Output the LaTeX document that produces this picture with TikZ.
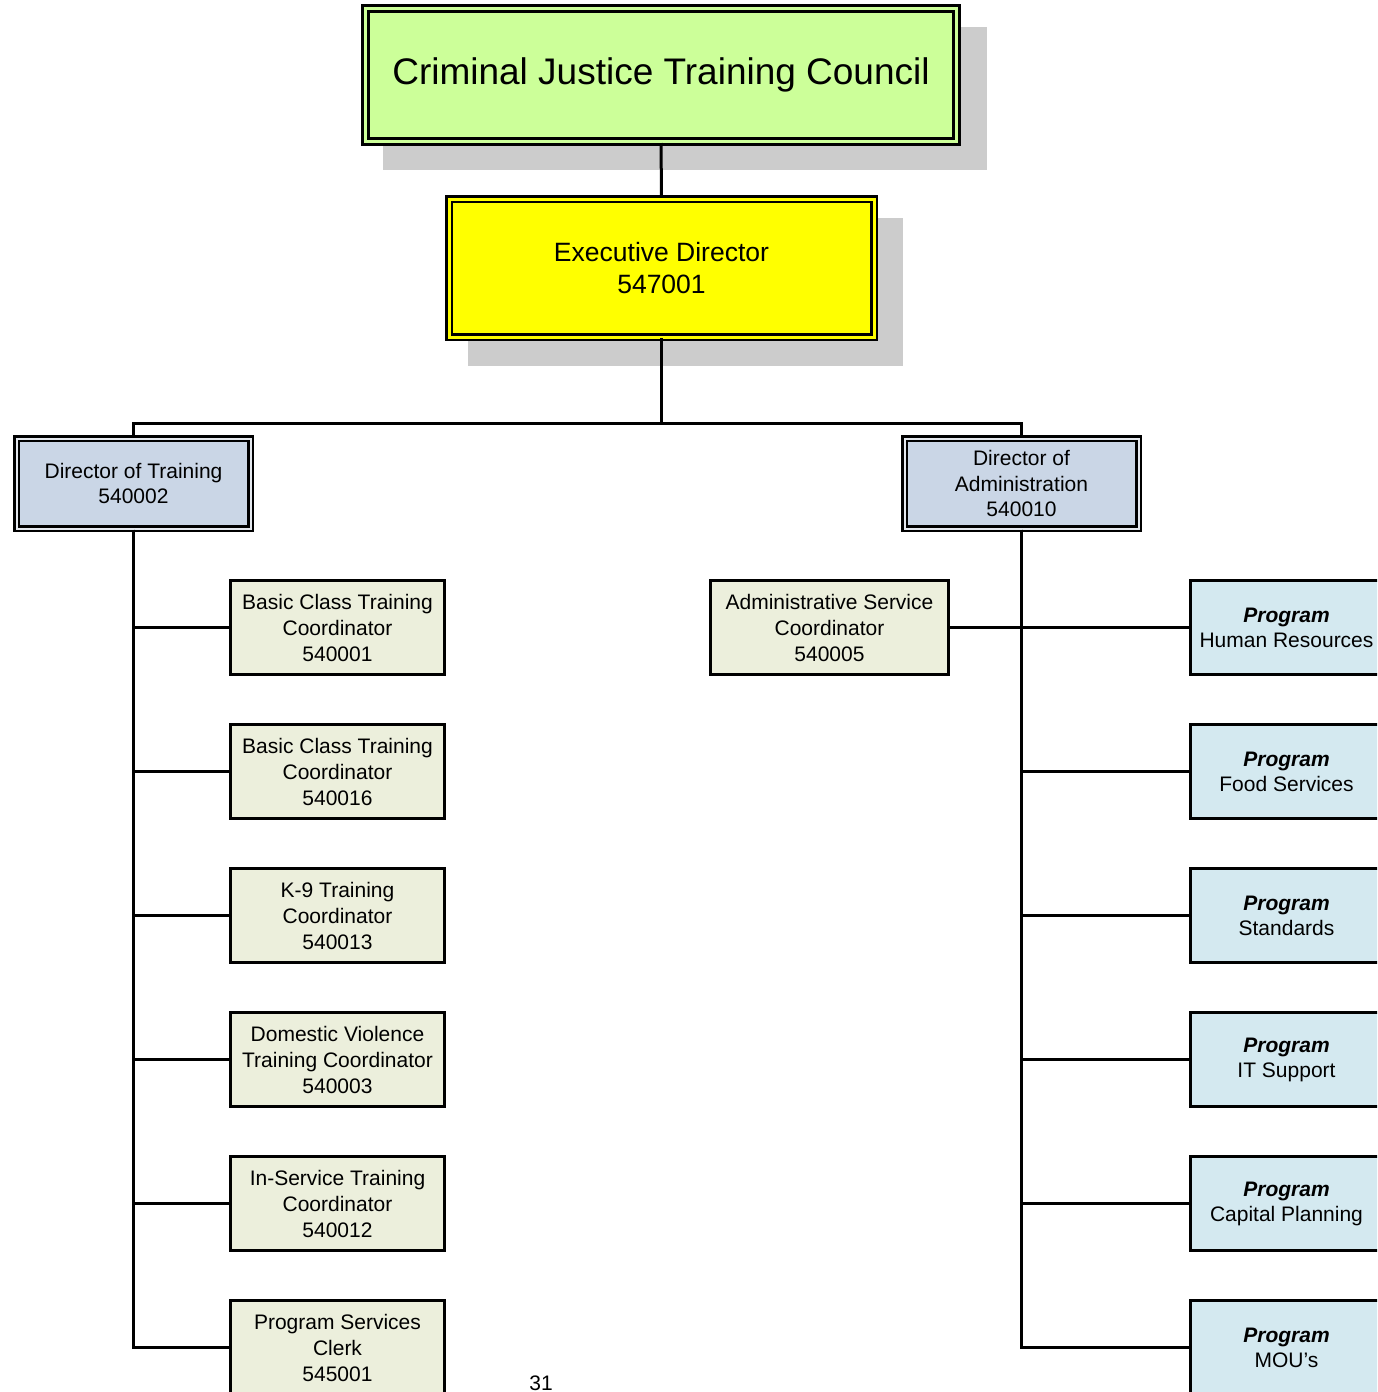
\documentclass[tikz,border=0pt]{standalone}
\usepackage{fontspec}
\setmainfont{Liberation Sans}
\usetikzlibrary{positioning}
\definecolor{councilgreen}{HTML}{CCFF99}
\definecolor{execyellow}{HTML}{FFFF00}
\definecolor{directorblue}{HTML}{CAD6E6}
\definecolor{directorgap}{HTML}{E4E8EE}
\definecolor{coordbeige}{HTML}{ECEFDC}
\definecolor{programblue}{HTML}{D4E9F0}
\definecolor{shadowgray}{HTML}{CCCCCC}

\begin{document}
\begin{tikzpicture}[x=1pt, y=-1pt,
    council/.style={rectangle, draw=black, line width=3pt, double=councilgreen, double distance=3pt, fill=councilgreen, minimum width=591pt, minimum height=133pt, text centered, font=\fontsize{37}{44}\selectfont},
    executive/.style={rectangle, draw=black, line width=2.5pt, double=execyellow, double distance=3pt, fill=execyellow, minimum width=425pt, minimum height=138pt, align=center, font=\fontsize{26.5}{32}\selectfont},
    director/.style={rectangle, draw=black, line width=2.5pt, double=directorgap, double distance=2pt, fill=directorblue, minimum width=234pt, minimum height=90pt, align=center, font=\fontsize{21}{25.5}\selectfont},
    coordinator/.style={rectangle, draw=black, line width=3pt, fill=coordbeige, minimum width=214pt, minimum height=94pt, align=center, font=\fontsize{21}{26}\selectfont},
    program/.style={rectangle, draw=black, line width=3pt, fill=programblue, minimum width=192pt, minimum height=94pt, align=center, font=\fontsize{21}{25}\selectfont},
    link/.style={line width=3pt}
]
\useasboundingbox (0,0) rectangle (1377,1392);
\fill[white] (0,0) rectangle (1377,1392);
\clip (0,0) rectangle (1377,1392);

% Shadows
\fill[shadowgray] (383,27) rectangle (987,170);
\fill[shadowgray] (468,218) rectangle (903,366);

% Top level
\node[council] (council) at (661,75) {Criminal Justice Training Council};
\node[executive] (exec) at (661.5,268) {Executive Director\\547001};

% Directors
\node[director] (dtraining) at (133.5,483.5) {Director of Training\\540002};
\node[director] (dadmin) at (1021.5,483.5) {Director of\\Administration\\540010};

% Training staff
\node[coordinator] (basic1) at (337.5,627.5) {Basic Class Training\\Coordinator\\540001};
\node[coordinator] (basic2) at (337.5,771.5) {Basic Class Training\\Coordinator\\540016};
\node[coordinator] (canine) at (337.5,915.5) {K-9 Training\\Coordinator\\540013};
\node[coordinator] (domestic) at (337.5,1059.5) {Domestic Violence\\Training Coordinator\\540003};
\node[coordinator] (inservice) at (337.5,1203.5) {In-Service Training\\Coordinator\\540012};
\node[coordinator] (clerk) at (337.5,1347.5) {Program Services\\Clerk\\545001};

% Administration staff
\node[coordinator, minimum width=238pt] (adminsvc) at (829.5,627.5) {Administrative Service\\Coordinator\\540005};
\node[program] (hr) at (1286.5,627.5) {\textbf{\textit{Program}}\\Human Resources};
\node[program] (food) at (1286.5,771.5) {\textbf{\textit{Program}}\\Food Services};
\node[program] (standards) at (1286.5,915.5) {\textbf{\textit{Program}}\\Standards};
\node[program] (itsupport) at (1286.5,1059.5) {\textbf{\textit{Program}}\\IT Support};
\node[program] (capital) at (1286.5,1203.5) {\textbf{\textit{Program}}\\Capital Planning};
\node[program] (mou) at (1286.5,1347.5) {\textbf{\textit{Program}}\\MOU’s};

% Lines
\coordinate (bus) at (661.5,423);
\draw[link] (council) -- (exec);
\draw[link] (exec) -- (bus);
\draw[link] (bus) -| (dtraining.north);
\draw[link] (bus) -| (dadmin.north);
\foreach \staff in {basic1,basic2,canine,domestic,inservice,clerk}
    \draw[link] (dtraining.south) |- (\staff.west);
\foreach \staff in {hr,food,standards,itsupport,capital,mou}
    \draw[link] (dadmin.south) |- (\staff.west);
\draw[link] (dadmin.south) |- (adminsvc.east);

% Page number
\node[font=\fontsize{21}{25}\selectfont] (pagenum) at (541,1383) {31};
\end{tikzpicture}
\end{document}
